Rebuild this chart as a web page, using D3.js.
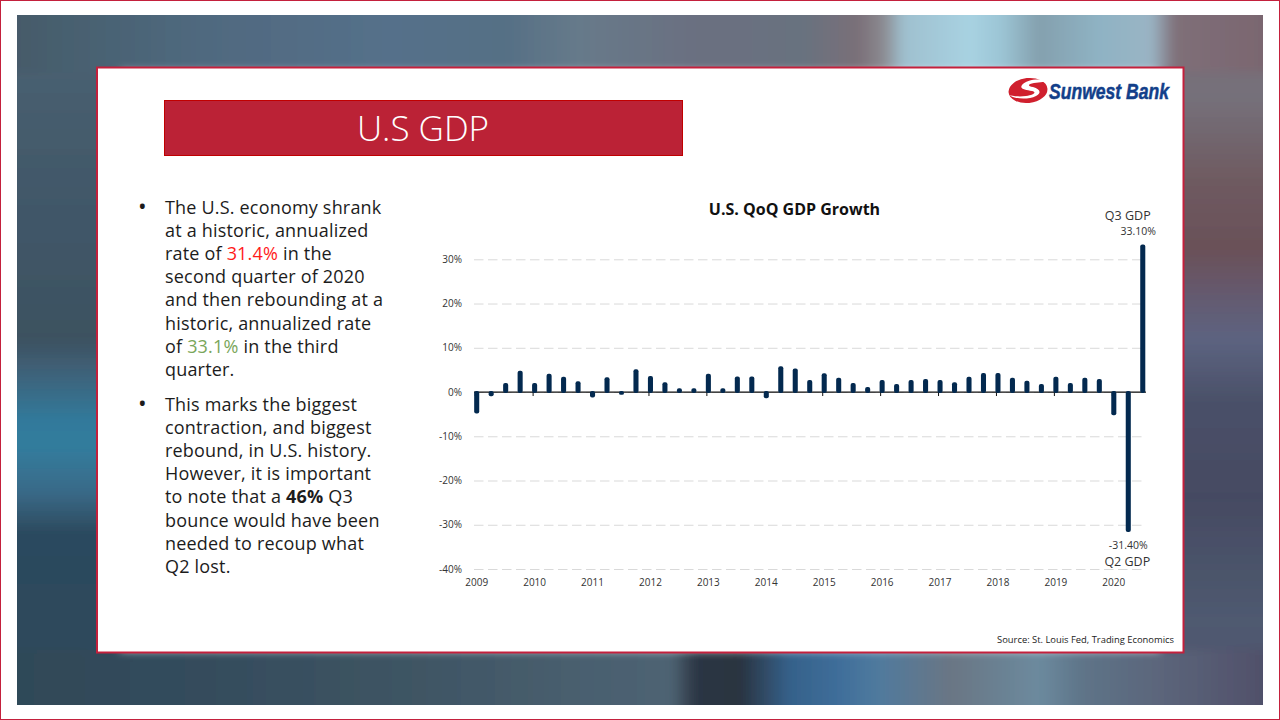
<!DOCTYPE html>
<html><head><meta charset="utf-8">
<script src="https://cdn.jsdelivr.net/npm/d3@7"></script>
<style>html,body{margin:0;padding:0;background:#fff;overflow:hidden}svg{display:block}text{font-family:"Open Sans",sans-serif}</style>
</head><body><svg id="c" width="1280" height="720"></svg>
<script>
// ---- data ----
const years = [2009,2010,2011,2012,2013,2014,2015,2016,2017,2018,2019,2020];
const quarters = years.flatMap(y => (y === 2020 ? [1,2,3] : [1,2,3,4]).map(q => y + "Q" + q));
const gdpGrowth = [
  -4.6,-0.7,1.8,4.6,
  1.8,3.9,3.2,2.2,
  -1.0,3.1,-0.4,4.9,
  3.4,2.0,0.6,0.6,
  3.9,0.6,3.3,3.3,
  -1.2,5.6,5.1,2.5,
  4.0,3.0,1.8,0.9,
  2.5,1.6,2.5,2.7,
  2.5,2.0,3.2,4.1,
  4.1,3.0,2.3,1.6,
  3.2,1.8,3.0,2.7,
  -5.0,-31.4,33.1
];
const yTicks = [-40,-30,-20,-10,0,10,20,30];
const chartTitle = "U.S. QoQ GDP Growth";
const sourceNote = "Source: St. Louis Fed, Trading Economics";
const slideTitle = "U.S GDP";
const bullets = [
  [[["The U.S. economy shrank"]],[["at a historic, annualized"]],[["rate of "],["31.4%","#ff1a1a"],[" in the"]],[["second quarter of 2020"]],
   [["and then rebounding at a"]],[["historic, annualized rate"]],[["of "],["33.1%","#7aa65a"],[" in the third"]],[["quarter."]]],
  [[["This marks the biggest"]],[["contraction, and biggest"]],[["rebound, in U.S. history."]],[["However, it is important"]],
   [["to note that a "],["46%",null,true],[" Q3"]],[["bounce would have been"]],[["needed to recoup what"]],[["Q2 lost."]]]
];
// background colour stops sampled along the visible edges of the photo
const bgTop = [[0,"#465a6a"],[.04,"#47606f"],[.15,"#50697f"],[.3,"#54708a"],[.39,"#556f85"],[.45,"#667a8a"],[.55,"#6b6f80"],[.63,"#68727f"],[.675,"#7a6f78"],[.695,"#8b8a90"],[.712,"#9fc0cf"],[.765,"#a8d2e2"],[.79,"#9cc5d5"],[.82,"#84a0ae"],[.87,"#8fb3c4"],[.91,"#9ab4c4"],[.93,"#7f6f78"],[1,"#7a6670"]];
const bgBottom = [[0,"#2f4858"],[.15,"#344c5c"],[.31,"#3e5463"],[.47,"#4a6070"],[.525,"#4e6373"],[.545,"#2c3644"],[.58,"#2a3340"],[.62,"#35618a"],[.66,"#3f6e9a"],[.69,"#4f7a9e"],[.75,"#6a7684"],[.82,"#6c8a9e"],[.855,"#5e7488"],[.93,"#5a6278"],[1,"#50506a"]];
const bgLeft = [[0,"#4c6273"],[.12,"#465d6e"],[.34,"#3f5566"],[.47,"#3d5160"],[.51,"#3f5f75"],[.59,"#317a9c"],[.63,"#337b9c"],[.69,"#3a6a88"],[.75,"#2c4a5e"],[1,"#2d4659"]];
const bgRight = [[0,"#7a6a76"],[.12,"#75707a"],[.24,"#6e5a60"],[.34,"#6a5058"],[.41,"#645a70"],[.47,"#5c6380"],[.56,"#4a5068"],[.7,"#454a62"],[.88,"#4f5a70"],[1,"#50506a"]];

// ---- drawing ----
const svg = d3.select("#c");
const defs = svg.append("defs");
function grad(id, stops, vertical){
  const g = defs.append("linearGradient").attr("id",id).attr("gradientUnits","userSpaceOnUse")
    .attr("x1",vertical?0:17).attr("y1",vertical?15:0).attr("x2",vertical?0:1263).attr("y2",vertical?705:0);
  stops.forEach(s => g.append("stop").attr("offset",s[0]).attr("stop-color",s[1]));
}
grad("gT",bgTop,false);grad("gB",bgBottom,false);grad("gL",bgLeft,true);grad("gR",bgRight,true);
defs.append("filter").attr("id","soft").attr("filterUnits","userSpaceOnUse").attr("x",-60).attr("y",-60).attr("width",1400).attr("height",840)
  .append("feGaussianBlur").attr("stdDeviation",5);
defs.append("clipPath").attr("id","photo").append("rect").attr("x",17).attr("y",15).attr("width",1246).attr("height",690);

svg.append("rect").attr("x",.5).attr("y",.5).attr("width",1279).attr("height",719).attr("fill","#fff").attr("stroke","#c4203c");
const bgClip = svg.append("g").attr("clip-path","url(#photo)");
const bg = bgClip.append("g").attr("filter","url(#soft)");
bg.append("rect").attr("x",-30).attr("y",-30).attr("width",150).attr("height",780).attr("fill","url(#gL)");
bg.append("rect").attr("x",1160).attr("y",-30).attr("width",150).attr("height",780).attr("fill","url(#gR)");
bg.append("rect").attr("x",-30).attr("y",-30).attr("width",1340).attr("height",102).attr("fill","url(#gT)");
bg.append("rect").attr("x",-30).attr("y",650).attr("width",1340).attr("height",100).attr("fill","url(#gB)");

svg.append("rect").attr("x",97).attr("y",67.5).attr("width",1086.5).attr("height",585).attr("fill","#fff").attr("stroke","#c4203c").attr("stroke-width",2);

// title banner
svg.append("rect").attr("x",164.5).attr("y",100.5).attr("width",518).attr("height",55).attr("fill","#bb2236").attr("stroke","#c00000");
svg.append("text").attr("x",423).attr("y",141).attr("text-anchor","middle").attr("font-size",35).attr("font-weight",300).attr("fill","#fff").text(slideTitle);

// logo
const logo = svg.append("g");
logo.append("ellipse").attr("cx",1028).attr("cy",90.5).attr("rx",19.5).attr("ry",12.5).attr("fill","#d0202e").attr("transform","rotate(-6 1028 90.5)");
logo.append("path").attr("d","M1049 81 C1038 78 1026 80 1022 85 C1019 89 1026 90 1032 91 C1037 92 1034 95 1026 96 C1019 97 1012 96 1009 95 C1014 99 1028 100 1036 96 C1042 93 1040 89 1033 87 C1027 86 1028 84 1034 83 C1040 82 1046 82 1049 81 Z").attr("fill","#fff");
logo.append("text").attr("x",1049).attr("y",99).attr("font-size",22).attr("font-weight",700).attr("font-style","italic").attr("fill","#123f8a").attr("stroke","#123f8a").attr("stroke-width",.5).style("font-family","'Liberation Sans'").attr("textLength",120).attr("lengthAdjust","spacingAndGlyphs").text("Sunwest Bank");

// bullet text
let lineY = 214;
const textG = svg.append("g").attr("font-size",18).attr("letter-spacing",.19).attr("fill","#1c1c1c");
bullets.forEach(par => {
  textG.append("text").attr("x",138).attr("y",lineY+1).attr("font-size",23).text("•");
  par.forEach(line => {
    const t = textG.append("text").attr("x",165).attr("y",lineY).style("white-space","pre");
    line.forEach(seg => {
      const s = t.append("tspan").text(seg[0]);
      if(seg[1]) s.attr("fill",seg[1]);
      if(seg[2]) s.attr("font-weight",700);
    });
    lineY += 23.1;
  });
  lineY += 12.2;
});

// chart
const x = d3.scaleBand().domain(quarters).range([469.46,1150]);
const y = d3.scaleLinear().domain([-40,30]).range([569,259.3]);
const plotL = 474, plotR = 1143;
const pct = d => d + "%";

const yAxis = d3.axisLeft(y).tickValues(yTicks).tickFormat(pct).tickSize(-(plotR-plotL)).tickPadding(12);
const yg = svg.append("g").attr("transform",`translate(${plotL},0)`).call(yAxis);
yg.select(".domain").remove();
yg.selectAll("line").attr("stroke","#d9d9d9").attr("stroke-dasharray","9.5,4.5");
yg.selectAll("text").attr("font-size",10).attr("fill","#333").style("font-family","'Open Sans'");

const xTickVals = years.map(v => v + "Q1");
const xg = svg.append("g").attr("transform",`translate(0,${y(-40)})`)
  .call(d3.axisBottom(x).tickValues(xTickVals).tickFormat(d => d.slice(0,4)).tickSize(0).tickPadding(10));
xg.select(".domain").remove();
xg.selectAll("text").attr("font-size",10).attr("fill","#333").style("font-family","'Open Sans'");

const zeroG = svg.append("g").attr("transform",`translate(-1.5,${y(0)})`)
  .call(d3.axisBottom(x).tickValues(xTickVals).tickFormat("").tickSize(4));
zeroG.select(".domain").remove();
zeroG.selectAll("line").attr("stroke","#111").attr("stroke-width",1);
svg.append("line").attr("x1",plotL).attr("x2",1146).attr("y1",y(0)).attr("y2",y(0)).attr("stroke","#111").attr("stroke-width",1.2);

const barW = x.bandwidth()*0.35;
svg.append("g").selectAll("rect").data(quarters).join("rect")
  .attr("x",d => x(d)+(x.bandwidth()-barW)/2)
  .attr("width",barW)
  .attr("y",(d,i) => y(Math.max(gdpGrowth[i],0))-1)
  .attr("height",(d,i) => Math.abs(y(gdpGrowth[i])-y(0))+2)
  .attr("rx",2).attr("fill","#03294f");

svg.append("text").attr("x",794.5).attr("y",215).attr("text-anchor","middle").attr("font-size",16).attr("font-weight",700).attr("fill","#111").text(chartTitle);

const q2 = "2020Q2", q3 = "2020Q3";
const valFmt = v => v.toFixed(2) + "%";
const cx = q => x(q)+x.bandwidth()/2;
const ann = svg.append("g").attr("fill","#333");
ann.append("text").attr("x",cx(q3)-15).attr("y",220).attr("text-anchor","middle").attr("font-size",12.5).text("Q3 GDP");
ann.append("text").attr("x",1156).attr("y",235).attr("text-anchor","end").attr("font-size",10.5).text(valFmt(gdpGrowth[quarters.indexOf(q3)]));
ann.append("text").attr("x",cx(q2)).attr("y",549).attr("text-anchor","middle").attr("font-size",10.5).text(valFmt(gdpGrowth[quarters.indexOf(q2)]));
ann.append("text").attr("x",cx(q2)-1).attr("y",566).attr("text-anchor","middle").attr("font-size",12.5).text("Q2 GDP");

svg.append("text").attr("x",1174).attr("y",643).attr("text-anchor","end").attr("font-size",9.4).attr("fill","#222").text(sourceNote);
</script></body></html>
